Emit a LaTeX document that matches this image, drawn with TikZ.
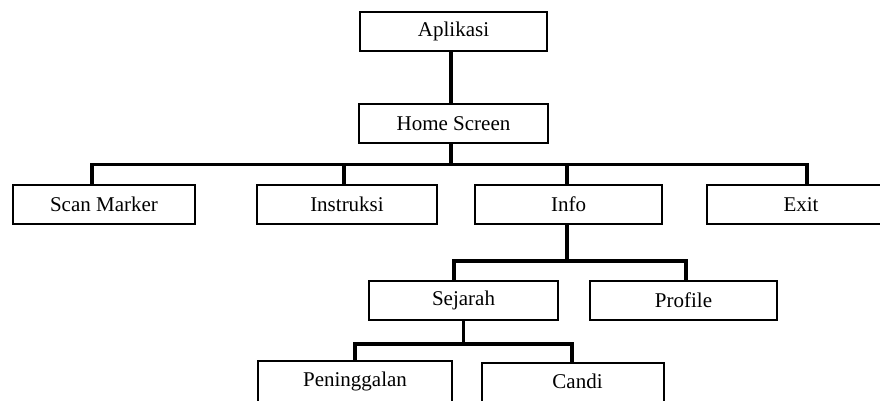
\documentclass[tikz,border=0pt]{standalone}
\usepackage{fontspec}
\setmainfont{Liberation Serif}
\begin{document}
\begin{tikzpicture}[x=1pt,y=-1pt,
  menubox/.style={draw, line width=1.7pt, inner sep=0pt, minimum height=39pt,
    font=\fontsize{21}{25}\selectfont},
  link/.style={line width=3.8pt, line join=miter}]
\useasboundingbox (0,0) rectangle (880,400);
\clip (0,0) rectangle (880,400);

% menu boxes
\node[menubox, minimum width=187pt] (app)   at (453.5,31.5)  {Aplikasi};
\node[menubox, minimum width=189pt] (home)  at (453.5,123.5) {Home Screen};
\node[menubox, minimum width=182pt] (scan)  at (104,204.5)   {Scan Marker};
\node[menubox, minimum width=180pt] (instr) at (347,204.5)   {Instruksi};
\node[menubox, minimum width=187pt] (info)  at (568.5,204.5) {Info};
\node[menubox, minimum width=188pt] (exit)  at (801,204.5)   {Exit};
\node[menubox, minimum width=189pt] (sej)   at (463.5,300.5) {Sejarah};
\node[menubox, minimum width=187pt] (prof)  at (683.5,300.5) {Profile};
% the lowest row runs past the bottom edge
\node[menubox, minimum width=194pt, minimum height=45pt, text depth=8pt] (pen)
  at (355,383.5) {Peninggalan};
\node[menubox, minimum width=182pt, minimum height=45pt, text depth=8pt] (candi)
  at (573,385.5) {\hspace*{9pt}Candi};

% bus heights
\coordinate (busA) at (0,164.5);
\coordinate (busB) at (0,261);
\coordinate (busC) at (0,344);

% connectors
\draw[link] ([xshift=-2.5pt]app.south) -- ([xshift=-2.5pt]home.north);
\draw[link] ([xshift=-2.5pt]home.south) -- ([xshift=-2.5pt]home.south |- busA);
\draw[link] ([xshift=-12pt]scan.north) |- ([xshift=6pt]exit.north |- busA) -- ([xshift=6pt]exit.north);
\draw[link] ([xshift=-3pt]instr.north) -- ([xshift=-3pt]instr.north |- busA);
\draw[link] ([xshift=-1.5pt]info.north) -- ([xshift=-1.5pt]info.north |- busA);

\draw[link] ([xshift=-1.5pt]info.south) -- ([xshift=-1.5pt]info.south |- busB);
\draw[link] ([xshift=-9.5pt]sej.north) |- ([xshift=2.5pt]prof.north |- busB) -- ([xshift=2.5pt]prof.north);

\draw[link] (sej.south) -- (sej.south |- busC);
\draw[link] (pen.north) |- ([xshift=-1pt]candi.north |- busC) -- ([xshift=-1pt]candi.north);
\end{tikzpicture}
\end{document}
